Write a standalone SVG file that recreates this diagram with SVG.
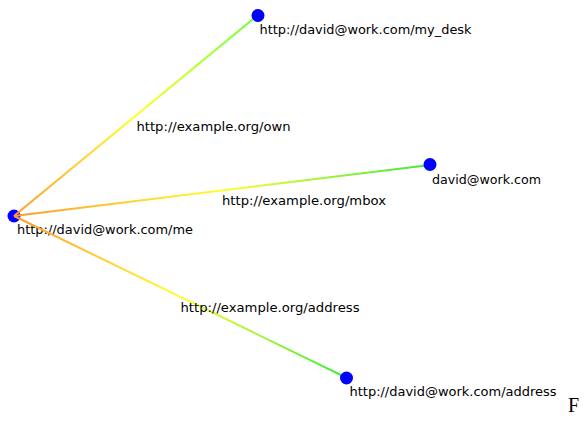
<svg xmlns="http://www.w3.org/2000/svg" width="586" height="422" viewBox="0 0 586 422">
<style>
.node{fill:#0000ff;}
.lbl{font-family:"DejaVu Sans",Verdana,sans-serif;font-size:13px;fill:#000;}
.edge{stroke-width:2;fill:none;}
</style>
<defs>
<linearGradient id="gOwn" gradientUnits="userSpaceOnUse" x1="14" y1="216" x2="258" y2="15">
<stop offset="0" stop-color="#ff9a30"/><stop offset="0.5" stop-color="#ffff30"/><stop offset="1" stop-color="#70ff40"/>
</linearGradient>
<linearGradient id="gMbox" gradientUnits="userSpaceOnUse" x1="14" y1="216" x2="430" y2="165">
<stop offset="0" stop-color="#ff9a30"/><stop offset="0.5" stop-color="#ffff30"/><stop offset="1" stop-color="#40e840"/>
</linearGradient>
<linearGradient id="gAddr" gradientUnits="userSpaceOnUse" x1="14" y1="216" x2="347" y2="378">
<stop offset="0" stop-color="#ff9a30"/><stop offset="0.5" stop-color="#ffff30"/><stop offset="1" stop-color="#40e840"/>
</linearGradient>
</defs>
<rect width="586" height="422" fill="#ffffff"/>
<g id="node-me">
<circle class="node" cx="14" cy="216" r="6.5"/>
<text class="lbl" x="17" y="233.5" textLength="176" lengthAdjust="spacingAndGlyphs">http://david@work.com/me</text>
</g>
<g id="connectors">
<line class="edge" x1="14" y1="216" x2="258" y2="15" stroke="url(#gOwn)"/>
<line class="edge" x1="14" y1="216" x2="430" y2="165" stroke="url(#gMbox)"/>
<line class="edge" x1="14" y1="216" x2="347" y2="378" stroke="url(#gAddr)"/>
<text class="lbl" x="136.5" y="130.5" textLength="154" lengthAdjust="spacingAndGlyphs">http://example.org/own</text>
<text class="lbl" x="222" y="205" textLength="164" lengthAdjust="spacingAndGlyphs">http://example.org/mbox</text>
<text class="lbl" x="180.5" y="311.5" textLength="179" lengthAdjust="spacingAndGlyphs">http://example.org/address</text>
</g>
<g id="node-my_desk">
<circle class="node" cx="258" cy="15.5" r="6.5"/>
<text class="lbl" x="259.5" y="33.5" textLength="212" lengthAdjust="spacingAndGlyphs">http://david@work.com/my_desk</text>
</g>
<g id="node-mbox">
<circle class="node" cx="430" cy="164.5" r="6.5"/>
<text class="lbl" x="432" y="183.5" textLength="109" lengthAdjust="spacingAndGlyphs">david@work.com</text>
</g>
<g id="node-address">
<circle class="node" cx="346.5" cy="378" r="6.5"/>
<text class="lbl" x="349.5" y="395.5" textLength="207" lengthAdjust="spacingAndGlyphs">http://david@work.com/address</text>
</g>
<text x="568" y="412" font-family="'Liberation Serif','Times New Roman',serif" font-size="20" fill="#000">F</text>
</svg>
